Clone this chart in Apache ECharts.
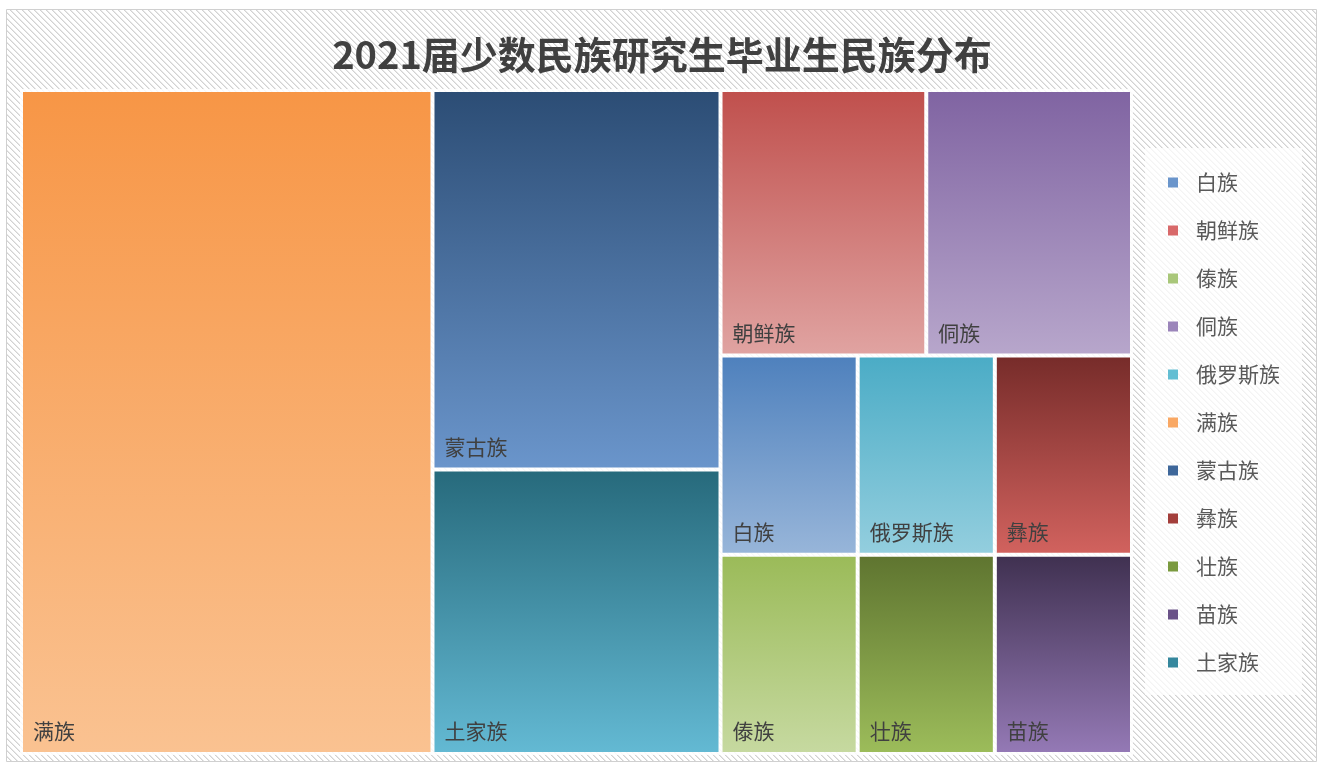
<!DOCTYPE html>
<html>
<head>
<meta charset="utf-8">
<script src="https://cdn.jsdelivr.net/npm/echarts@6/dist/echarts.min.js"></script>
<style>
html,body{margin:0;padding:0;background:#fff;}
#chart{width:1324px;height:765px;}
</style>
</head>
<body>
<div id="chart"></div>
<script>
// Treemap data (ordered as laid out)
const names = ['满族', '蒙古族', '土家族', '朝鲜族', '侗族', '白族', '傣族', '俄罗斯族', '彝族', '壮族', '苗族'];
const values = [10, 4, 3, 2, 2, 1, 1, 1, 1, 1, 1];
// Legend order
const legendNames = ['白族', '朝鲜族', '傣族', '侗族', '俄罗斯族', '满族', '蒙古族', '彝族', '壮族', '苗族', '土家族'];
const titleText = '2021届少数民族研究生毕业生民族分布';

// colours per category: [top, bottom, legend]
const palette = {
  '满族':   ['#F79646', '#FAC291', '#F9A864'],
  '蒙古族': ['#2C4D75', '#6A95CB', '#3E679A'],
  '土家族': ['#276A7C', '#63B9D3', '#35879D'],
  '朝鲜族': ['#C0504D', '#E0A3A1', '#D8696A'],
  '侗族':   ['#8064A2', '#B7A6CB', '#9B85BA'],
  '白族':   ['#4F81BD', '#97B5D9', '#6A95CB'],
  '俄罗斯族': ['#4BACC6', '#93CEDE', '#63BED3'],
  '彝族':   ['#772C2A', '#D1625E', '#A33E3B'],
  '傣族':   ['#9BBB59', '#C6D9A0', '#A9C77A'],
  '壮族':   ['#5F7530', '#9CBC5A', '#7A9A3F'],
  '苗族':   ['#403151', '#9479B5', '#6A5288']
};

function grad(top, bottom) {
  return new echarts.graphic.LinearGradient(0, 0, 0, 1, [
    { offset: 0, color: top }, { offset: 1, color: bottom }
  ]);
}

// hatch pattern
const pc = document.createElement('canvas');
pc.width = 6; pc.height = 6;
const pctx = pc.getContext('2d');
pctx.fillStyle = '#ffffff';
pctx.fillRect(0, 0, 6, 6);
for (let y = 0; y < 6; y++) {
  for (let x = 0; x < 6; x++) {
    const d = ((x - y) % 6 + 6) % 6;
    if (d === 0) { pctx.fillStyle = '#d2d2d2'; pctx.fillRect(x, y, 1, 1); }
    else if (d === 1) { pctx.fillStyle = '#e8e8e8'; pctx.fillRect(x, y, 1, 1); }
  }
}

const treeData = names.map((n, i) => ({
  name: n,
  value: values[i],
  itemStyle: { color: grad(palette[n][0], palette[n][1]) }
}));

const legendData = legendNames.map(n => ({
  name: n, value: 0, itemStyle: { color: palette[n][2] }
}));

const chart = echarts.init(document.getElementById('chart'), null, { renderer: 'canvas' });
chart.setOption({
  animation: false,
  backgroundColor: '#ffffff',
  graphic: [{
    type: 'rect', z: -100, silent: true,
    shape: { x: 6.5, y: 9.5, width: 1310, height: 752 },
    style: { fill: { image: pc, repeat: 'repeat' }, stroke: '#d0d0d0', lineWidth: 1 }
  }],
  title: {
    text: titleText,
    left: 'center',
    top: 31,
    textStyle: {
      fontFamily: '"Noto Sans CJK SC", sans-serif',
      fontSize: 38,
      fontWeight: 'bold',
      color: '#404040'
    }
  },
  legend: {
    orient: 'vertical',
    left: 1145,
    top: 148,
    icon: 'rect',
    itemWidth: 10,
    itemHeight: 10,
    itemGap: 27,
    selectedMode: false,
    padding: [24, 22, 22, 23],
    backgroundColor: 'rgba(255,255,255,0.75)',
    textStyle: {
      fontFamily: '"Noto Sans CJK SC", sans-serif',
      fontSize: 21,
      lineHeight: 20,
      color: '#595959',
      padding: [0, 0, 0, 13]
    },
    data: legendNames
  },
  series: [
    {
      type: 'pie',
      silent: true,
      radius: [0, 0],
      center: [-100, -100],
      stillShowZeroSum: false,
      label: { show: false },
      labelLine: { show: false },
      data: legendData
    },
    {
      type: 'treemap',
      left: 20,
      top: 89,
      width: 1113,
      height: 666,
      roam: false,
      nodeClick: false,
      breadcrumb: { show: false },
      sort: false,
      squareRatio: 1,
      silent: true,
      label: {
        show: true,
        position: 'insideBottomLeft',
        distance: 5,
        fontFamily: '"Noto Sans CJK SC", sans-serif',
        fontSize: 21,
        color: '#404040'
      },
      upperLabel: { show: false },
      levels: [
        { itemStyle: { borderWidth: 3, borderColor: 'rgba(255,255,255,0.85)', gapWidth: 4 } },
        { itemStyle: { borderWidth: 0, gapWidth: 0 } }
      ],
      data: treeData
    }
  ]
});
</script>
</body>
</html>
